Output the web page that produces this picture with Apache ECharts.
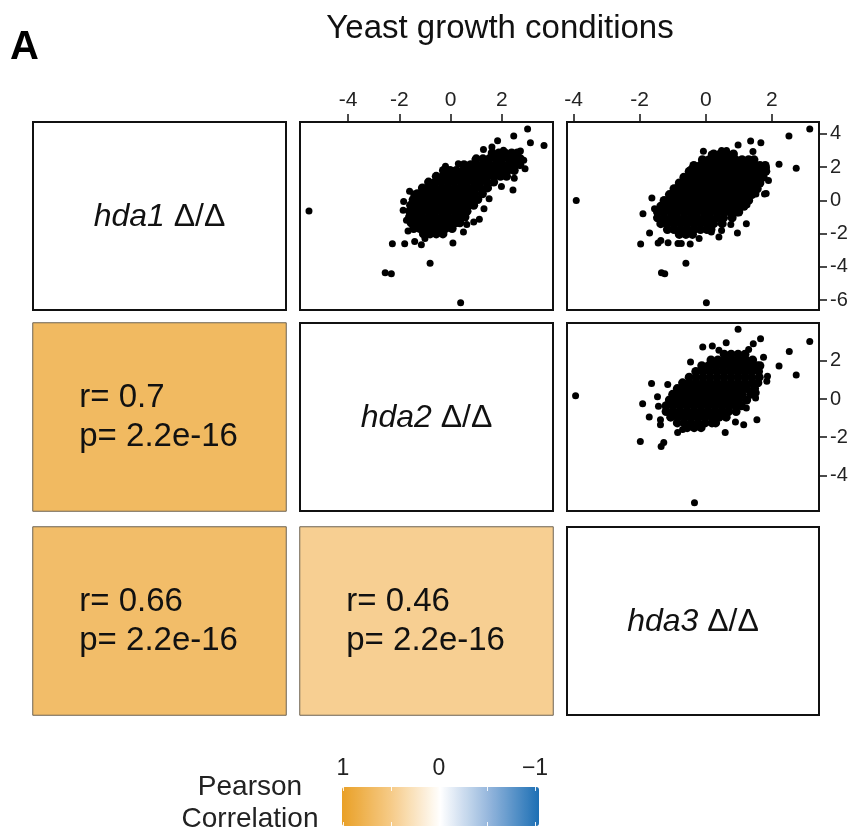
<!DOCTYPE html>
<html><head><meta charset="utf-8">
<script src="https://cdn.jsdelivr.net/npm/echarts@6/dist/echarts.min.js"></script>
<style>html,body{margin:0;padding:0;background:#fff}#c{width:849px;height:834px}</style>
</head><body><div id="c"></div>
<script>
// ---------------- data ----------------
const varNames = ['hda1', 'hda2', 'hda3'];
const corrR = [0.7, 0.66, 0.46];          // cells (2,1), (3,1), (3,2)
const corrP = [2.2e-16, 2.2e-16, 2.2e-16];
const topTicks = [-4, -2, 0, 2];
const rightTicks1 = [4, 2, 0, -2, -4, -6];
const rightTicks2 = [2, 0, -2, -4];
const legendLabels = [1, 0, -1];
const legendTicks = [1, 0.5, 0, -0.5, -1];
const varRange = [[-6.6, 4.72], [-5.87, 3.99], [-4.2, 3.43]];

// panel row1/col2 : x = hda2, y = hda1   (dense core as rows [y, [x...]])
const p12CoreRows = [
  [2.85, [1.62, 1.88, 2.12, 2.38, 2.6]],
  [2.5, [1.0, 1.26, 1.5, 1.76, 2.0, 2.26, 2.5, 2.72]],
  [2.15, [0.52, 0.78, 1.02, 1.28, 1.52, 1.78, 2.02, 2.28, 2.52, 2.7]],
  [1.8, [-0.28, -0.02, 0.22, 0.48, 0.72, 0.98, 1.22, 1.48, 1.72, 1.98, 2.22, 2.48]],
  [1.45, [-0.56, -0.3, -0.06, 0.2, 0.44, 0.7, 0.94, 1.2, 1.44, 1.7, 1.94, 2.18]],
  [1.1, [-0.86, -0.6, -0.36, -0.1, 0.14, 0.4, 0.64, 0.9, 1.14, 1.4, 1.68]],
  [0.75, [-1.1, -0.84, -0.6, -0.34, -0.1, 0.16, 0.4, 0.66, 0.9, 1.16, 1.44]],
  [0.4, [-1.3, -1.06, -0.8, -0.56, -0.3, -0.06, 0.2, 0.44, 0.7, 0.94, 1.24]],
  [0.05, [-1.46, -1.2, -0.96, -0.7, -0.46, -0.2, 0.04, 0.3, 0.54, 0.8, 1.06]],
  [-0.3, [-1.56, -1.3, -1.06, -0.8, -0.56, -0.3, -0.06, 0.2, 0.44, 0.7, 0.9]],
  [-0.65, [-1.6, -1.36, -1.1, -0.86, -0.6, -0.36, -0.1, 0.14, 0.4, 0.64]],
  [-1.0, [-1.6, -1.34, -1.1, -0.84, -0.6, -0.34, -0.1, 0.16, 0.4, 0.56]],
  [-1.35, [-1.54, -1.3, -1.04, -0.8, -0.54, -0.3, -0.04, 0.2, 0.36]],
  [-1.7, [-1.44, -1.2, -0.94, -0.7, -0.44, -0.2, 0.06]],
  [-2.02, [-1.06, -0.8, -0.56, -0.3]]
];
const p12Outer = [
  [-5.52, -0.64], [0.39, -6.17], [-2.55, -4.36], [-2.31, -4.42], [-0.8, -3.79], [-2.27, -2.61],
  [-1.79, -2.61], [0.09, -2.57], [1.12, -1.14], [3.0, 4.3], [3.64, 3.31], [3.11, 3.47],
  [2.46, 3.88], [1.83, 3.59], [2.43, 0.63], [2.48, 1.33], [1.98, 0.83], [-1.83, -0.07],
  [-1.09, 0.72], [-1.44, 0.38], [-0.73, 1.05], [-1.72, -1.2], [-1.66, -1.85], [-1.4, -2.47],
  [-1.14, -2.67], [0.63, -1.45], [1.28, 3.06], [1.61, 3.22], [0.95, 2.45], [2.06, 3.02],
  [2.35, 2.78], [2.72, 2.98], [2.85, 2.41], [-0.2, 2.05], [0.3, 2.2], [-1.0, -2.3],
  [0.5, -1.9], [2.9, 1.9], [1.5, 0.1], [1.3, -0.5], [0.9, -1.3], [-1.85, -0.6], [-1.6, 0.55]
];

// panel row1/col3 : x = hda3, y = hda1
const p13CoreRows = [
  [2.8, [0.24, 0.44, 0.64, 0.84]],
  [2.45, [-0.1, 0.1, 0.3, 0.5, 0.7, 0.9, 1.1, 1.3, 1.46]],
  [2.1, [-0.36, -0.16, 0.04, 0.24, 0.44, 0.64, 0.84, 1.04, 1.24, 1.44, 1.64, 1.8]],
  [1.75, [-0.5, -0.3, -0.1, 0.1, 0.3, 0.5, 0.7, 0.9, 1.1, 1.3, 1.5, 1.7, 1.82]],
  [1.4, [-0.66, -0.46, -0.26, -0.06, 0.14, 0.34, 0.54, 0.74, 0.94, 1.14, 1.34, 1.54, 1.74]],
  [1.05, [-0.8, -0.6, -0.4, -0.2, 0.0, 0.2, 0.4, 0.6, 0.8, 1.0, 1.2, 1.4, 1.64]],
  [0.7, [-0.96, -0.76, -0.56, -0.36, -0.16, 0.04, 0.24, 0.44, 0.64, 0.84, 1.04, 1.24, 1.44, 1.56]],
  [0.35, [-1.1, -0.9, -0.7, -0.5, -0.3, -0.1, 0.1, 0.3, 0.5, 0.7, 0.9, 1.1, 1.3, 1.4]],
  [0.0, [-1.26, -1.06, -0.86, -0.66, -0.46, -0.26, -0.06, 0.14, 0.34, 0.54, 0.74, 0.94, 1.14, 1.3]],
  [-0.35, [-1.36, -1.16, -0.96, -0.76, -0.56, -0.36, -0.16, 0.04, 0.24, 0.44, 0.64, 0.84, 1.04, 1.16]],
  [-0.7, [-1.46, -1.26, -1.06, -0.86, -0.66, -0.46, -0.26, -0.06, 0.14, 0.34, 0.54, 0.74, 0.94, 1.0]],
  [-1.05, [-1.46, -1.26, -1.06, -0.86, -0.66, -0.46, -0.26, -0.06, 0.14, 0.34, 0.54, 0.8]],
  [-1.4, [-1.36, -1.16, -0.96, -0.76, -0.56, -0.36, -0.16, 0.04, 0.24, 0.5]],
  [-1.75, [-1.16, -0.96, -0.76, -0.56, -0.36, -0.16, 0.04, 0.16]],
  [-2.05, [-0.8, -0.6, -0.4]]
];
const p13Outer = [
  [-3.92, 0.0], [3.15, 4.3], [2.52, 3.88], [2.22, 2.17], [2.74, 1.93], [0.02, -6.16],
  [-0.6, -3.79], [-1.34, -4.35], [-1.24, -4.41], [-1.97, -2.63], [-1.9, -0.8], [-1.63, 0.14],
  [-1.7, -1.96], [-0.91, 0.75], [-1.44, -2.57], [-1.36, -2.42], [-1.14, -2.55], [-0.84, -2.6],
  [-0.74, -2.6], [-0.47, -2.63], [0.17, -1.9], [0.48, -1.81], [0.76, -1.45], [0.96, -1.96],
  [1.23, -1.41], [1.25, -0.27], [1.52, 0.38], [1.78, 0.38], [1.83, 0.42], [1.57, 0.99],
  [0.98, 3.33], [1.36, 3.57], [1.67, 3.47], [-0.07, 2.96], [0.17, 2.78], [0.48, 3.0],
  [0.63, 3.0], [1.43, 2.95], [1.43, 2.41], [1.84, 1.97], [-0.44, 1.91], [-1.55, -0.5],
  [-1.3, -0.2], [1.9, 1.2], [-0.2, -2.3], [0.4, -2.2]
];

// panel row2/col3 : x = hda3, y = hda2
const p23CoreRows = [
  [2.35, [0.56, 0.77, 0.98, 1.19]],
  [2.05, [0.16, 0.37, 0.58, 0.79, 1.0, 1.21, 1.42]],
  [1.75, [-0.12, 0.09, 0.3, 0.51, 0.72, 0.93, 1.14, 1.35, 1.56, 1.64]],
  [1.45, [-0.3, -0.09, 0.12, 0.33, 0.54, 0.75, 0.96, 1.17, 1.38, 1.6]],
  [1.15, [-0.5, -0.29, -0.08, 0.13, 0.34, 0.55, 0.76, 0.97, 1.18, 1.39, 1.62]],
  [0.85, [-0.7, -0.49, -0.28, -0.07, 0.14, 0.35, 0.56, 0.77, 0.98, 1.19, 1.4, 1.58]],
  [0.55, [-0.86, -0.65, -0.44, -0.23, -0.02, 0.19, 0.4, 0.61, 0.82, 1.03, 1.24, 1.48]],
  [0.25, [-1.0, -0.79, -0.58, -0.37, -0.16, 0.05, 0.26, 0.47, 0.68, 0.89, 1.1, 1.36]],
  [-0.05, [-1.1, -0.89, -0.68, -0.47, -0.26, -0.05, 0.16, 0.37, 0.58, 0.79, 1.0, 1.24]],
  [-0.35, [-1.2, -0.99, -0.78, -0.57, -0.36, -0.15, 0.06, 0.27, 0.48, 0.69, 0.9, 1.08]],
  [-0.65, [-1.2, -0.99, -0.78, -0.57, -0.36, -0.15, 0.06, 0.27, 0.48, 0.69, 0.92]],
  [-0.95, [-1.06, -0.85, -0.64, -0.43, -0.22, -0.01, 0.2, 0.41, 0.62]],
  [-1.25, [-0.86, -0.65, -0.44, -0.23, -0.02, 0.19, 0.3]],
  [-1.5, [-0.56, -0.35, -0.14]]
];
const p23Outer = [
  [-3.94, 0.18], [-0.34, -5.44], [0.98, 3.66], [3.15, 3.02], [2.53, 2.49], [2.22, 1.73],
  [2.74, 1.26], [1.66, 3.17], [1.44, 2.9], [-1.98, -2.22], [-1.35, -2.49], [-1.27, -2.28],
  [-1.91, -0.25], [-1.71, -0.94], [-1.64, 0.82], [-1.46, 0.12], [-1.43, -0.38], [-1.37, -1.08],
  [-1.37, -1.34], [-1.15, 0.76], [-0.85, -1.75], [0.59, -1.75], [1.15, -1.34], [1.55, -1.08],
  [1.23, -0.47], [1.51, 0.06], [1.53, 0.33], [1.85, 0.94], [1.87, 1.2], [-0.09, 2.73],
  [0.2, 2.78], [0.4, 2.56], [0.62, 2.96], [-0.46, 1.94], [1.75, 2.2], [1.3, 2.6],
  [-0.7, -1.6], [0.9, -1.2]
];

// ---------------- layout ----------------
const FONT = "'Liberation Sans', Arial, Helvetica, sans-serif";
const colX = [33, 300, 567];
const colW = [253, 253, 252];
const rowY = [122, 323, 527];
const rowH = 188;

const flat = rows => rows.flatMap(([y, xs]) => xs.map(x => [x, y]));

function gridAt(r, c, extra) {
  return Object.assign({ left: colX[c], top: rowY[r], width: colW[c], height: rowH, outerBoundsMode: 'none', containLabel: false }, extra);
}
const boxStyle = { show: true, backgroundColor: '#fff', borderColor: '#111', borderWidth: 2 };

const grids = [
  gridAt(0, 1, boxStyle),      // 0 scatter (1,2)
  gridAt(0, 2, boxStyle),      // 1 scatter (1,3)
  gridAt(1, 2, boxStyle),      // 2 scatter (2,3)
  gridAt(1, 0, { show: false }),      // 3 heat (2,1)
  gridAt(2, 0, { show: false }),      // 4 heat (3,1)
  gridAt(2, 1, { show: false }),      // 5 heat (3,2)
  gridAt(0, 0, boxStyle),      // 6 diag
  gridAt(1, 1, boxStyle),      // 7 diag
  gridAt(2, 2, boxStyle),      // 8 diag
  { left: 343, top: 787, width: 192, height: 39, show: false, outerBoundsMode: 'none' } // 9 legend axis
];

function valAxis(gi, range, extra) {
  return Object.assign({ gridIndex: gi, type: 'value', min: range[0], max: range[1], show: false, splitLine: { show: false } }, extra);
}
function tickAxis(pos, ticks, fs, margin) {
  return {
    show: true, position: pos,
    axisLine: { show: false, onZero: false },
    splitLine: { show: false },
    axisTick: { show: true, inside: false, length: 8, lineStyle: { color: '#111', width: 1.5 }, customValues: ticks },
    axisLabel: { show: true, customValues: ticks, fontSize: fs, fontFamily: FONT, color: '#222', margin: margin, formatter: v => String(v) }
  };
}
const catAxis = gi => ({ gridIndex: gi, type: 'category', data: ['a'], show: false });

const xAxes = [
  valAxis(0, varRange[1], tickAxis('top', topTicks, 21, 11)),
  valAxis(1, varRange[2], tickAxis('top', topTicks, 21, 11)),
  valAxis(2, varRange[2]),
  catAxis(3), catAxis(4), catAxis(5),
  valAxis(6, [0, 1]), valAxis(7, [0, 1]), valAxis(8, [0, 1]),
  { gridIndex: 9, type: 'value', min: -1, max: 1, inverse: true, position: 'top', z: 10,
    axisLine: { show: false, onZero: false }, splitLine: { show: false },
    axisTick: { show: true, inside: true, length: 4, lineStyle: { color: 'rgba(255,255,255,0.9)', width: 1 }, customValues: legendTicks },
    axisLabel: { show: true, customValues: legendLabels, fontSize: 23, fontFamily: FONT, color: '#222', margin: 7,
      formatter: v => (v < 0 ? '\u2212' + Math.abs(v) : String(v)) } },
  { gridIndex: 9, type: 'value', min: -1, max: 1, inverse: true, position: 'bottom', z: 10,
    axisLine: { show: false, onZero: false }, splitLine: { show: false }, axisLabel: { show: false },
    axisTick: { show: true, inside: true, length: 4, lineStyle: { color: 'rgba(255,255,255,0.9)', width: 1 }, customValues: legendTicks } }
];
const yAxes = [
  valAxis(0, varRange[0]),
  valAxis(1, varRange[0], tickAxis('right', rightTicks1, 20, 11)),
  valAxis(2, varRange[1], tickAxis('right', rightTicks2, 20, 11)),
  catAxis(3), catAxis(4), catAxis(5),
  valAxis(6, [0, 1]), valAxis(7, [0, 1]), valAxis(8, [0, 1]),
  { gridIndex: 9, type: 'value', min: 0, max: 1, show: false }
];

const dotStyle = { color: '#000', opacity: 1, borderWidth: 0 };
function scatterPair(gi, coreRows, outer) {
  return [
    { type: 'scatter', xAxisIndex: gi, yAxisIndex: gi, data: flat(coreRows), symbol: 'circle', symbolSize: 9,
      itemStyle: dotStyle, silent: true, clip: true, emphasis: { disabled: true } },
    { type: 'scatter', xAxisIndex: gi, yAxisIndex: gi, data: outer, symbol: 'circle', symbolSize: 7,
      itemStyle: dotStyle, silent: true, clip: true, emphasis: { disabled: true } }
  ];
}
const heatCells = [[3, 0], [4, 1], [5, 2]]; // [gridIndex, corr index]
const heatSeries = heatCells.map(([gi, k]) => ({
  type: 'heatmap', xAxisIndex: gi, yAxisIndex: gi, data: [[0, 0, corrR[k]]],
  itemStyle: { borderColor: '#6c6353', borderWidth: 1 },
  label: { show: true, position: 'insideLeft', distance: 47, align: 'left',
    fontSize: 33, lineHeight: 39, fontFamily: FONT, color: '#111',
    formatter: () => 'r= ' + corrR[k] + '\np= ' + corrP[k] },
  emphasis: { disabled: true }, silent: true
}));

const series = [
  ...scatterPair(0, p12CoreRows, p12Outer),
  ...scatterPair(1, p13CoreRows, p13Outer),
  ...scatterPair(2, p23CoreRows, p23Outer),
  ...heatSeries
];

const diagLabels = varNames.map((nm, i) => ({
  type: 'text', x: colX[i] + colW[i] / 2, y: rowY[i] + rowH / 2 + 1, z: 100,
  style: { text: '{i|' + nm + '} {n|\u0394/\u0394}', align: 'center', verticalAlign: 'middle', fill: '#111',
    fontSize: 32, fontFamily: FONT,
    rich: { i: { fontStyle: 'italic', fontSize: 32, fontFamily: FONT, fill: '#111' },
            n: { fontSize: 32, fontFamily: FONT, fill: '#111' } } }
}));

const option = {
  animation: false,
  backgroundColor: '#fff',
  grid: grids,
  xAxis: xAxes,
  yAxis: yAxes,
  visualMap: {
    type: 'continuous', min: -1, max: 1, seriesIndex: [6, 7, 8],
    orient: 'horizontal', inverse: true, left: 342, top: 787, itemWidth: 39, itemHeight: 197,
    calculable: false, hoverLink: false, text: null, padding: 0, showLabel: false,
    inRange: { color: ['#1C6FB4', '#93B5DC', '#FFFFFF', '#F6CB88', '#E9A026'] }
  },
  series: series,
  graphic: [
    { type: 'text', x: 10, y: 48, style: { text: 'A', fontSize: 40, fontWeight: 'bold', fontFamily: FONT, fill: '#000', verticalAlign: 'middle' } },
    { type: 'text', x: 500, y: 29, style: { text: 'Yeast growth conditions', fontSize: 33, fontFamily: FONT, fill: '#111', align: 'center', verticalAlign: 'middle' } },
    { type: 'text', x: 250, y: 803, style: { text: 'Pearson\nCorrelation', fontSize: 28, lineHeight: 32, fontFamily: FONT, fill: '#222', align: 'center', verticalAlign: 'middle' } },
    ...diagLabels
  ]
};

const chart = echarts.init(document.getElementById('c'), null, { renderer: 'canvas', width: 849, height: 834 });
chart.setOption(option);
</script>
</body></html>
